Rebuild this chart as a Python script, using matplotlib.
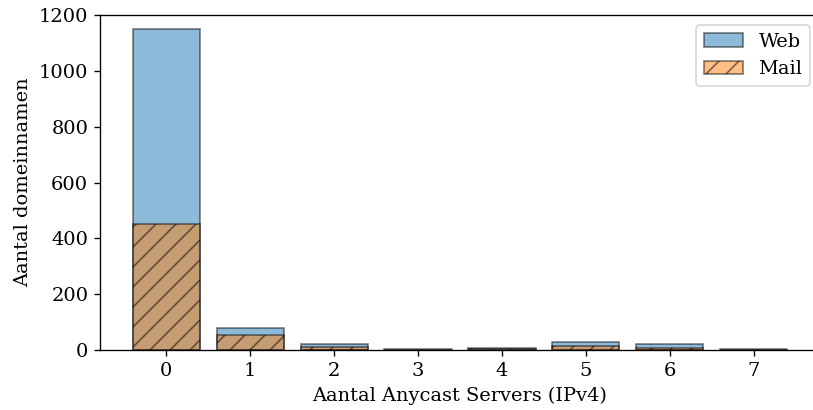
import matplotlib.pyplot as plt
import numpy as np

plt.rcParams['font.family'] = 'DejaVu Serif'
plt.rcParams['font.size'] = 11.67
plt.rcParams['hatch.linewidth'] = 1.0

servers = [0, 1, 2, 3, 4, 5, 6, 7]
web = [1150, 79, 22, 2, 7, 27, 21, 3]
mail = [450, 54, 12, 1, 3, 14, 8, 1]

W, H = 813, 410
DPI = 120
fig = plt.figure(figsize=(W/DPI, H/DPI), dpi=DPI)
# axes run slightly past the right edge of the canvas, as in the reference
ax = fig.add_axes([100/W, (H-350)/H, 720/W, 335/H])

x = np.array(servers)
ax.bar(x, web, width=0.8, color='#1f77b4', alpha=0.5, edgecolor='black', linewidth=1.0, label='Web')
ax.bar(x, mail, width=0.8, color='#ff7f0e', alpha=0.5, edgecolor='black', linewidth=1.0, hatch='//', label='Mail')

ax.set_xlim(-0.79, 7.79)
ax.set_ylim(0, 1200)
ax.set_xticks(x)
ax.set_xlabel('Aantal Anycast Servers (IPv4)')
ax.set_ylabel('Aantal domeinnamen')
ax.legend(loc='upper right')

fig.savefig('out.png', dpi=DPI)
